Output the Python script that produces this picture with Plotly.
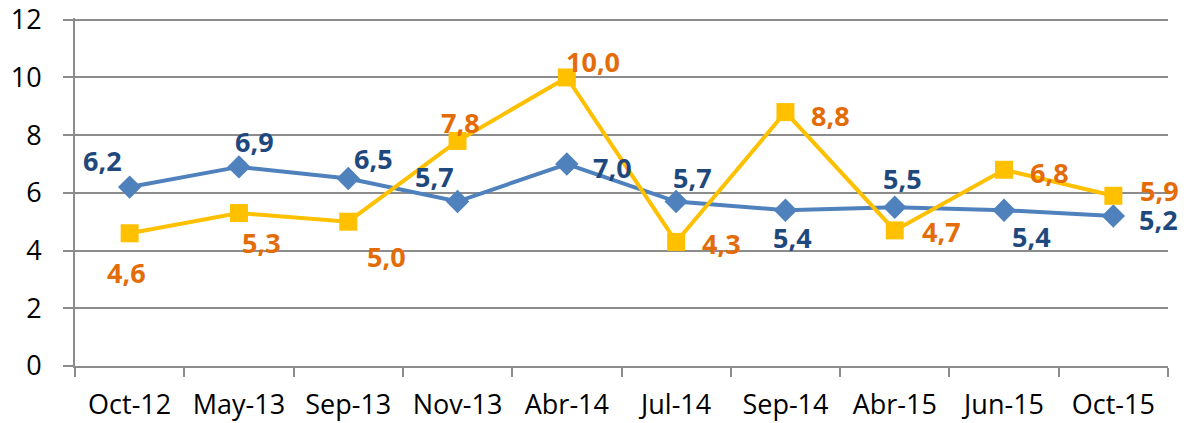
import plotly.graph_objects as go

categories = ["Oct-12", "May-13", "Sep-13", "Nov-13", "Abr-14", "Jul-14",
              "Sep-14", "Abr-15", "Jun-15", "Oct-15"]
blue_values = [6.2, 6.9, 6.5, 5.7, 7.0, 5.7, 5.4, 5.5, 5.4, 5.2]
yellow_values = [4.6, 5.3, 5.0, 7.8, 10.0, 4.3, 8.8, 4.7, 6.8, 5.9]
y_ticks = [0, 2, 4, 6, 8, 10, 12]

# label offsets in pixels (dx, dy) with dy positive = downward
blue_offsets = [(-27, -27), (16, -25), (25, -20), (-23, -25), (46, 3),
                (16, -24), (7, 27), (8, -29), (27, 26), (45, 4)]
yellow_offsets = [(-3, 39), (23, 29), (38, 35), (3, -18), (26, -16),
                  (45, 2), (45, 3), (47, 1), (45, 3), (46, -5)]

BLUE_LINE = "#4F81BD"
BLUE_TEXT = "#1F497D"
YEL_LINE = "#FFC000"
YEL_TEXT = "#E36C09"
GRID = "#8C8C8C"
FONT = "Open Sans"

fig = go.Figure()
fig.add_trace(go.Scatter(
    x=categories, y=blue_values, mode="lines+markers",
    line=dict(color=BLUE_LINE, width=4),
    marker=dict(symbol="diamond", size=18, color=BLUE_LINE),
    showlegend=False, hoverinfo="skip"))
fig.add_trace(go.Scatter(
    x=categories, y=yellow_values, mode="lines+markers",
    line=dict(color=YEL_LINE, width=4),
    marker=dict(symbol="square", size=18, color=YEL_LINE),
    showlegend=False, hoverinfo="skip"))


def fmt(v):
    return f"{v:.1f}".replace(".", ",")


annotations = []
for vals, offs, col in ((blue_values, blue_offsets, BLUE_TEXT),
                        (yellow_values, yellow_offsets, YEL_TEXT)):
    for c, v, (dx, dy) in zip(categories, vals, offs):
        annotations.append(dict(
            x=c, y=v, xref="x", yref="y", text=fmt(v), showarrow=False,
            xshift=dx, yshift=-dy, xanchor="center", yanchor="middle",
            font=dict(family=FONT, size=27, color=col, weight="bold")))

fig.update_layout(
    width=1185, height=415,
    margin=dict(l=67, r=25, t=10, b=57),
    paper_bgcolor="white", plot_bgcolor="white",
    font=dict(family=FONT, size=27, color="black"),
    annotations=annotations,
    xaxis=dict(
        type="category", range=[-0.5, 9.5], showgrid=False, automargin=False,
        showline=True, linecolor=GRID, linewidth=2,
        ticks="outside", tickson="boundaries", ticklen=9, tickwidth=2,
        tickcolor=GRID, ticklabelstandoff=14,
        tickfont=dict(family=FONT, size=27, color="black")),
    yaxis=dict(
        range=[0, 12.06], tickvals=y_ticks, showgrid=True, gridcolor=GRID,
        gridwidth=2, zeroline=False, showline=True, linecolor=GRID,
        linewidth=2, ticks="outside", ticklen=10, tickwidth=2, automargin=False,
        tickcolor=GRID, ticklabelstandoff=16, ticklabeloverflow="allow",
        tickfont=dict(family=FONT, size=27, color="black")),
)

fig.write_html("out.html")
